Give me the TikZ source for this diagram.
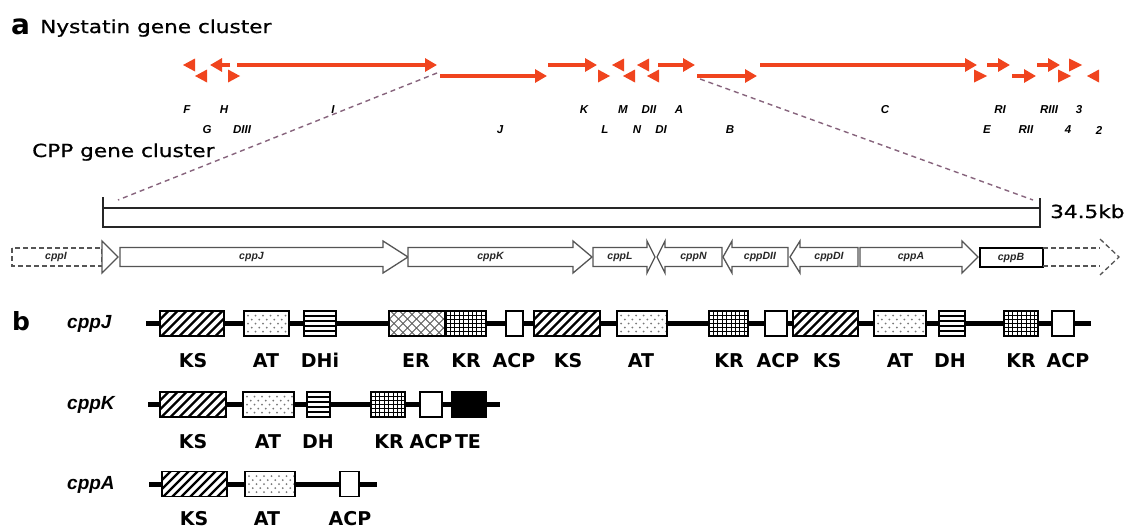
\documentclass[tikz,border=0pt]{standalone}
\usepackage{fontspec}
\setmainfont{DejaVu Sans}
\newfontfamily\widef{DejaVu Sans}[FakeStretch=1.2,FakeBold=0.8]
\newfontfamily\libsans{Liberation Sans}
\usetikzlibrary{arrows.meta}
\definecolor{nysred}{RGB}{240,68,30}
\definecolor{dashc}{RGB}{135,100,125}
\definecolor{gout}{RGB}{85,85,85}
\definecolor{dotc}{RGB}{120,120,120}
\tikzset{
  nys/.style={draw=nysred, line width=4.8pt, -{Triangle[length=12pt,width=13pt]}},
  nlab/.style={inner sep=0pt, font=\libsans\bfseries\itshape\fontsize{11.5}{12}\selectfont},
  dashline/.style={draw=dashc, line width=1.4pt, dash pattern=on 5pt off 4pt},
  bar/.style={draw=black!85, line width=1.3pt},
  gene/.style={draw=gout, line width=1.3pt, fill=white},
  genelab/.style={inner sep=0pt, text=black!85, font=\libsans\bfseries\itshape\fontsize{10.5}{11}\selectfont},
  dbox/.style={draw=black, line width=1.5pt},
  dlab/.style={anchor=base, inner sep=0pt, font=\bfseries\fontsize{19}{21}\selectfont},
  mlab/.style={anchor=base west, inner sep=0pt, font=\libsans\bfseries\itshape\fontsize{19}{21}\selectfont},
  ttl/.style={anchor=base west, inner sep=0pt, font=\widef\fontsize{18}{20}\selectfont}
}
\newcommand\headR[3]{\fill[nysred] (#1,#3-6.5) -- (#2,#3) -- (#1,#3+6.5) -- cycle;}
\newcommand\headL[3]{\fill[nysred] (#2,#3-6.5) -- (#1,#3) -- (#2,#3+6.5) -- cycle;}
% gene arrows: right pointing: x1, xhead, xtip, name, label
\newcommand\garR[5]{%
  \draw[gene] (#1,247.5) -- (#2,247.5) -- (#2,241) -- (#3,257) -- (#2,273) -- (#2,266.5) -- (#1,266.5) -- cycle;
  \node[genelab] (#4) at ({(#1+#2)/2},257) {#5};}
% left pointing: xtip, xhead, x2, name, label
\newcommand\garL[5]{%
  \draw[gene] (#3,247.5) -- (#2,247.5) -- (#2,241) -- (#1,257) -- (#2,273) -- (#2,266.5) -- (#3,266.5) -- cycle;
  \node[genelab] (#4) at ({(#2+#3)/2},257) {#5};}
% domains: x1, x2, yc
\newcommand\dKS[3]{%
  \fill[white] (#1,#3-12.5) rectangle (#2,#3+12.5);
  \begin{scope}
    \clip (#1,#3-12.5) rectangle (#2,#3+12.5);
    \foreach \k in {0,9,...,117}{\draw[line width=2.3pt] (#1+\k-27,#3+14) -- (#1+\k+1,#3-14);}
  \end{scope}
  \draw[dbox] (#1,#3-12.5) rectangle (#2,#3+12.5);}
\newcommand\dAT[3]{%
  \fill[white] (#1,#3-12.5) rectangle (#2,#3+12.5);
  \begin{scope}
    \clip (#1,#3-12.5) rectangle (#2,#3+12.5);
    \foreach \i in {0,...,8}{%
      \foreach \j in {-8,0,8}{\fill[dotc] (#1+4+\i*7.5,#3+\j) circle (1);}
      \foreach \j in {-4,4}{\fill[dotc] (#1+7.75+\i*7.5,#3+\j) circle (1);}}
  \end{scope}
  \draw[dbox] (#1,#3-12.5) rectangle (#2,#3+12.5);}
\newcommand\dDH[3]{%
  \fill[white] (#1,#3-12.5) rectangle (#2,#3+12.5);
  \foreach \j in {-7.5,-2.5,2.5,7.5}{\draw[line width=2.4pt] (#1,#3+\j) -- (#2,#3+\j);}
  \draw[dbox] (#1,#3-12.5) rectangle (#2,#3+12.5);}
\newcommand\dER[3]{%
  \fill[white] (#1,#3-12.5) rectangle (#2,#3+12.5);
  \begin{scope}
    \clip (#1,#3-12.5) rectangle (#2,#3+12.5);
    \foreach \k in {0,9,...,99}{%
      \draw[line width=1pt, black!65] (#1+\k-27,#3+14) -- (#1+\k+1,#3-14);
      \draw[line width=1pt, black!65] (#1+\k-27,#3-14) -- (#1+\k+1,#3+14);}
  \end{scope}
  \draw[dbox] (#1,#3-12.5) rectangle (#2,#3+12.5);}
\newcommand\dKR[3]{%
  \fill[white] (#1,#3-12.5) rectangle (#2,#3+12.5);
  \begin{scope}
    \clip (#1,#3-12.5) rectangle (#2,#3+12.5);
    \foreach \k in {4.4,8.8,...,60}{\draw[line width=0.9pt] (#1+\k,#3-13) -- (#1+\k,#3+13);}
    \foreach \j in {-8.3,-4.15,0,4.15,8.3}{\draw[line width=0.9pt] (#1,#3+\j) -- (#2,#3+\j);}
  \end{scope}
  \draw[dbox] (#1,#3-12.5) rectangle (#2,#3+12.5);}
\newcommand\dACP[3]{\draw[dbox,fill=white] (#1,#3-12.5) rectangle (#2,#3+12.5);}
\newcommand\dTE[3]{\draw[dbox,fill=black] (#1,#3-12.5) rectangle (#2,#3+12.5);}

\begin{document}
\begin{tikzpicture}[x=1pt,y=-1pt]
\useasboundingbox[fill=white] (0,0) rectangle (1127,530);

% ---------- titles ----------
\node[anchor=base west, inner sep=0pt, font=\bfseries\fontsize{28}{30}\selectfont] (ta) at (11,34) {a};
\node[ttl] (tn) at (40,33) {Nystatin gene cluster};
\node[ttl] (tc) at (32,157) {CPP gene cluster};
\node[ttl] (tkb) at (1050,218) {34.5kb};

% ---------- nystatin arrows ----------
\headL{183}{195}{65}   % F
\headL{195}{207}{76}   % G
\draw[nys] (230,65) -- (210,65); % H
\headR{228}{240}{76}   % DIII
\draw[nys] (237,65) -- (437,65); % I
\draw[nys] (440,76) -- (547,76); % J
\draw[nys] (548,65) -- (597,65); % K
\headR{598}{610}{76}   % L
\headL{612}{624}{65}   % M
\headL{623}{635}{76}   % N
\headL{637}{649}{65}   % DII
\headL{647}{659}{76}   % DI
\draw[nys] (658,65) -- (695,65); % A
\draw[nys] (697,76) -- (757,76); % B
\draw[nys] (760,65) -- (977,65); % C
\headR{974}{987}{76}   % E
\draw[nys] (987,65) -- (1010,65); % RI
\draw[nys] (1012,76) -- (1036,76); % RII
\draw[nys] (1037,65) -- (1060,65); % RIII
\headR{1058}{1071}{76} % 4
\headR{1069}{1082}{65} % 3
\headL{1087}{1099}{76} % 2

% labels
\node[nlab] (nF) at (187,110) {F};
\node[nlab] (nH) at (224,110) {H};
\node[nlab] (nI) at (333,110) {I};
\node[nlab] (nK) at (584,110) {K};
\node[nlab] (nM) at (623,110) {M};
\node[nlab] (nDII) at (649,110) {DII};
\node[nlab] (nA) at (679,110) {A};
\node[nlab] (nC) at (885,110) {C};
\node[nlab] (nRI) at (1000,110) {RI};
\node[nlab] (nRIII) at (1049,110) {RIII};
\node[nlab] (n3) at (1079,110) {3};
\node[nlab] (nG) at (207,130) {G};
\node[nlab] (nDIII) at (242,130) {DIII};
\node[nlab] (nJ) at (500,130) {J};
\node[nlab] (nL) at (605,130) {L};
\node[nlab] (nN) at (637,130) {N};
\node[nlab] (nDI) at (661,130) {DI};
\node[nlab] (nB) at (730,130) {B};
\node[nlab] (nE) at (987,130) {E};
\node[nlab] (nRII) at (1026,130) {RII};
\node[nlab] (n4) at (1068,130) {4};
\node[nlab] (n2) at (1099,130) {2};

% ---------- zoom lines ----------
\coordinate (zl1) at (437,73);
\coordinate (zl2) at (118,200);
\coordinate (zr1) at (700,79);
\coordinate (zr2) at (1033,200);
\draw[dashline] (zl1) -- (zl2);
\draw[dashline] (zr1) -- (zr2);

% ---------- scale bar ----------
\draw[bar] (103,197) -- (103,227) -- (1040,227) -- (1040,198);
\draw[bar] (103,208) -- (1040,208);

% ---------- CPP genes ----------
\draw[gene, dash pattern=on 5pt off 3pt] (12,248) rectangle (102,266);
\node[genelab] (gI) at (56,257) {cppI};
\draw[gene] (102,241) -- (118,257) -- (102,273) -- cycle;
\garR{120}{383}{408}{gJ}{cppJ}
\garR{408}{573}{592}{gK}{cppK}
\garR{593}{647}{655}{gL}{cppL}
\garL{657}{665}{722}{gN}{cppN}
\garL{723}{732}{788}{gDII}{cppDII}
\garL{790}{800}{858}{gDI}{cppDI}
\garR{860}{962}{978}{gA}{cppA}
\draw[line width=1.6pt, fill=white] (980,248) rectangle (1043,267);
\node[genelab] (gB) at (1011,257.5) {cppB};
\draw[gout, line width=1.3pt, dash pattern=on 5pt off 3pt] (1043,248) -- (1100,248);
\draw[gout, line width=1.3pt, dash pattern=on 5pt off 3pt] (1043,266) -- (1100,266);
\draw[gout, line width=1.3pt, dash pattern=on 5pt off 3pt] (1100,239) -- (1119,257) -- (1100,275);

% ---------- part b ----------
\node[anchor=base west, inner sep=0pt, font=\bfseries\fontsize{25}{27}\selectfont] (tb) at (12,330) {b};

% cppJ
\node[mlab] (mJ) at (67,328) {cppJ};
\draw[line width=5pt] (146,323.5) -- (1091,323.5);
\dKS{160}{224}{323.5}
\dAT{244}{289}{323.5}
\dDH{304}{336}{323.5}
\dER{389}{445}{323.5}
\dKR{446}{486}{323.5}
\dACP{506}{523}{323.5}
\dKS{534}{600}{323.5}
\dAT{617}{667}{323.5}
\dKR{709}{748}{323.5}
\dACP{765}{787}{323.5}
\dKS{793}{858}{323.5}
\dAT{874}{926}{323.5}
\dDH{939}{965}{323.5}
\dKR{1004}{1038}{323.5}
\dACP{1052}{1074}{323.5}
\node[dlab] (j1) at (193,367) {KS};
\node[dlab] (j2) at (266,367) {AT};
\node[dlab] (j3) at (320,367) {DHi};
\node[dlab] (j4) at (416,367) {ER};
\node[dlab] (j5) at (466,367) {KR};
\node[dlab] (j6) at (514,367) {ACP};
\node[dlab] (j7) at (568,367) {KS};
\node[dlab] (j8) at (641,367) {AT};
\node[dlab] (j9) at (729,367) {KR};
\node[dlab] (j10) at (778,367) {ACP};
\node[dlab] (j11) at (827,367) {KS};
\node[dlab] (j12) at (900,367) {AT};
\node[dlab] (j13) at (950,367) {DH};
\node[dlab] (j14) at (1021,367) {KR};
\node[dlab] (j15) at (1068,367) {ACP};

% cppK
\node[mlab] (mK) at (67,409) {cppK};
\draw[line width=5pt] (148,404.5) -- (500,404.5);
\dKS{160}{226}{404.5}
\dAT{243}{294}{404.5}
\dDH{307}{330}{404.5}
\dKR{371}{405}{404.5}
\dACP{420}{442}{404.5}
\dTE{452}{486}{404.5}
\node[dlab] (k1) at (193,448) {KS};
\node[dlab] (k2) at (268,448) {AT};
\node[dlab] (k3) at (318,448) {DH};
\node[dlab] (k4) at (389,448) {KR};
\node[dlab] (k5) at (431,448) {ACP};
\node[dlab] (k6) at (468,448) {TE};

% cppA
\node[mlab] (mA) at (67,489) {cppA};
\draw[line width=5pt] (149,484) -- (377,484);
\dKS{162}{227}{484}
\dAT{245}{295}{484}
\dACP{340}{359}{484}
\node[dlab] (a1) at (194,525) {KS};
\node[dlab] (a2) at (267,525) {AT};
\node[dlab] (a3) at (350,525) {ACP};
\end{tikzpicture}
\end{document}
